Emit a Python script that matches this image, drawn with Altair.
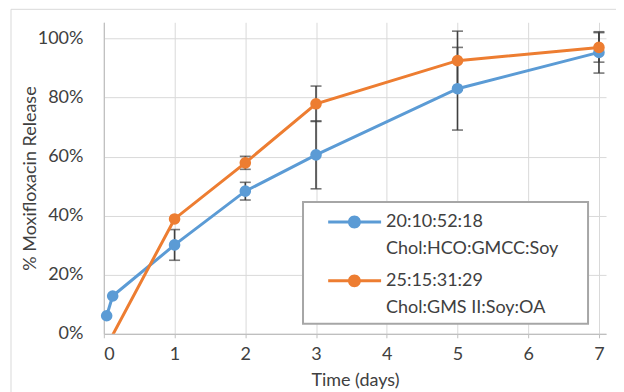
import altair as alt
import pandas as pd

# ---- data ----
series_names = ["20:10:52:18|Chol:HCO:GMCC:Soy", "25:15:31:29|Chol:GMS II:Soy:OA"]
series_colors = ["#5B9BD5", "#ED7D31"]

blue_time = [0.04, 0.125, 1, 2, 3, 5, 7]
blue_value = [0.061, 0.128, 0.301, 0.483, 0.606, 0.830, 0.953]
blue_err = [0, 0, 0.052, 0.030, 0.115, 0.140, 0.070]

orange_time = [0, 1, 2, 3, 5, 7]
orange_value = [-0.06, 0.389, 0.579, 0.779, 0.925, 0.970]
orange_err = [0, 0, 0.022, 0.060, 0.100, 0.050]

x_ticks = [0, 1, 2, 3, 4, 5, 6, 7]
y_ticks = [0, 0.2, 0.4, 0.6, 0.8, 1.0]

rows = []
for name, ts, vs, es in [
    (series_names[0], blue_time, blue_value, blue_err),
    (series_names[1], orange_time, orange_value, orange_err),
]:
    for t, v, e in zip(ts, vs, es):
        rows.append(dict(series=name, time=t, value=v, err=e, lo=v - e, hi=v + e))
df = pd.DataFrame(rows)

FONT = "Lato"
TXT = "#404040"

xscale = alt.Scale(domain=[0, 7.1], nice=False, zero=False)
yscale = alt.Scale(domain=[0, 1.055], nice=False, zero=False)
xaxis = alt.Axis(values=x_ticks, title="Time (days)", format="d")
yaxis = alt.Axis(values=y_ticks, format=".0%", title="% Moxifloxacin Release")
YT = "% Moxifloxacin Release"

# legend symbol: line with a circle in the middle (custom path, 1 unit = 2px)
d = 4.25
sym = (
    f"M 0 {d-0.75} L 11 {d-0.75} L 11 {d+0.75} L 0 {d+0.75} Z "
    f"M 15.3 {d-0.75} L 26.5 {d-0.75} L 26.5 {d+0.75} L 15.3 {d+0.75} Z "
    f"M 16.4 {d} A 3.25 3.25 0 1 1 9.9 {d} A 3.25 3.25 0 1 1 16.4 {d} Z"
)

color = alt.Color(
    "series:N",
    scale=alt.Scale(domain=series_names, range=series_colors),
    legend=alt.Legend(
        title=None, orient="none", legendX=194, legendY=173.5,
        padding=9,
        symbolType=sym, symbolSize=16, symbolOffset=12.7, symbolStrokeWidth=0,
        labelOffset=49, labelLimit=400, labelFontSize=18, labelFont=FONT,
        labelColor=TXT, labelBaseline="top",
        labelExpr="split(datum.label, '|')", rowPadding=5,
    ),
)

base = alt.Chart(df)

border = alt.Chart(alt.Data(values=[{}])).mark_rect(
    fill="transparent", stroke="#d9d9d9", strokeWidth=1, clip=False
).encode(x=alt.value(-93), x2=alt.value(600), y=alt.value(-13), y2=alt.value(400))

legend_box = alt.Chart(alt.Data(values=[{}])).mark_rect(
    fill="white", stroke="#a6a6a6", strokeWidth=2, clip=False
).encode(x=alt.value(199.5), x2=alt.value(485), y=alt.value(180), y2=alt.value(302))

errs = base.transform_filter("datum.err > 0")
rule = errs.mark_rule(color="#404040", strokeWidth=1.6).encode(
    x=alt.X("time:Q", scale=xscale, axis=xaxis),
    y=alt.Y("lo:Q", scale=yscale, axis=yaxis, title=YT),
    y2="hi:Q",
)
cap_lo = errs.mark_tick(color="#404040", orient="horizontal", size=11, thickness=1.6).encode(
    x=alt.X("time:Q", scale=xscale, axis=xaxis),
    y=alt.Y("lo:Q", scale=yscale, axis=yaxis, title=YT),
)
cap_hi = errs.mark_tick(color="#404040", orient="horizontal", size=11, thickness=1.6).encode(
    x=alt.X("time:Q", scale=xscale, axis=xaxis),
    y=alt.Y("hi:Q", scale=yscale, axis=yaxis, title=YT),
)
line = base.mark_line(strokeWidth=3, clip=True).encode(
    x=alt.X("time:Q", scale=xscale, axis=xaxis),
    y=alt.Y("value:Q", scale=yscale, axis=yaxis, title=YT),
    color=color,
)
pts = base.transform_filter("datum.value >= 0").mark_point(
    filled=True, size=135, opacity=1
).encode(
    x=alt.X("time:Q", scale=xscale, axis=xaxis),
    y=alt.Y("value:Q", scale=yscale, axis=yaxis, title=YT),
    color=color,
)

chart = alt.layer(border, legend_box, rule, cap_lo, cap_hi, line, pts).properties(
    width=503, height=312,
    autosize=alt.AutoSizeParams(type="none"),
    padding={"left": 96, "top": 14, "right": 10, "bottom": 60},
    background="white",
).configure(
    style={"guide-label": {"lineHeight": 27}}
).configure_view(stroke=None).configure_axis(
    labelFont=FONT, labelFontSize=18, labelColor=TXT,
    titleFont=FONT, titleFontSize=18, titleColor=TXT, titleFontWeight="normal",
    grid=True, gridColor="#d9d9d9", gridWidth=1,
    domainColor="#bfbfbf", domainWidth=1.2, tickColor="#bfbfbf",
).configure_axisX(
    tickSize=4, labelPadding=8, titlePadding=8,
).configure_axisY(
    ticks=False, labelPadding=21, titlePadding=-2,
)

chart.save("out.html", embed_options={"renderer": "svg", "actions": False})
